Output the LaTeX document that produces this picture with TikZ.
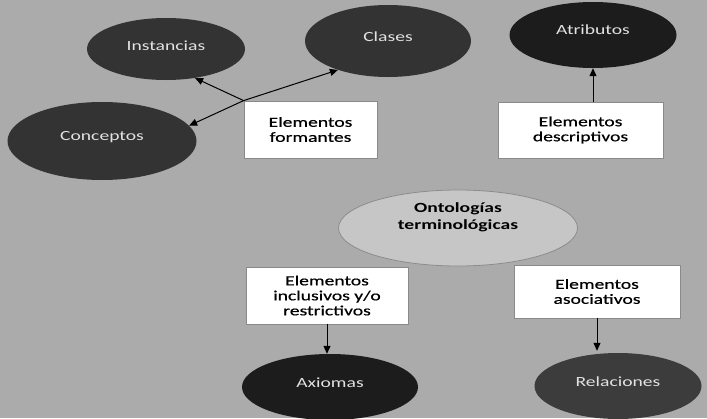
\documentclass[tikz,border=0pt]{standalone}
\usepackage{fontspec}
\setmainfont[FakeStretch=1.4]{Carlito}
\newfontfamily\medfont[FakeStretch=1.4,FakeBold=0.6]{Carlito}
\usetikzlibrary{shapes.geometric,arrows.meta}
\definecolor{bg}{HTML}{ABABAB}
\definecolor{ontofill}{HTML}{C6C6C6}
\definecolor{ontoline}{HTML}{8C8C8C}
\definecolor{boxline}{HTML}{8A8A8A}
\definecolor{ell1}{HTML}{333333}
\definecolor{ell2}{HTML}{1C1C1C}
\definecolor{ell3}{HTML}{3C3C3C}
\definecolor{elltext}{HTML}{E2E2E2}
\tikzset{
  darkell/.style={ellipse, draw=none, fill=ell1, inner sep=0pt},
  elltxt/.style={text=elltext, inner sep=0pt, font=\fontsize{14}{15}\selectfont},
  boxnode/.style={rectangle, draw=boxline, line width=0.8pt, fill=white, align=center, inner sep=0pt, font=\fontsize{14}{15}\medfont},
  arr/.style={draw=black, line width=1pt, -{Triangle[length=8pt,width=7pt]}},
}
\begin{document}
\begin{tikzpicture}[x=1pt,y=-1pt]
\fill[bg] (0,0) rectangle (707,418);
\useasboundingbox (0,0) rectangle (707,418);
% ellipses
\node[darkell, minimum width=158pt, minimum height=62pt] (inst) at (166,49) {};
\node[darkell, minimum width=166pt, minimum height=72pt, fill=ell1] (cls) at (388,41) {};
\node[darkell, minimum width=167pt, minimum height=66pt, fill=ell2] (attr) at (593,35) {};
\node[darkell, minimum width=189pt, minimum height=78pt] (conc) at (102,141) {};
\node[ellipse, draw=ontoline, line width=0.8pt, fill=ontofill, minimum width=239pt, minimum height=76pt, inner sep=0pt] (onto) at (458,228) {};
\node[darkell, minimum width=176pt, minimum height=66pt, fill=ell2] (axi) at (330,387) {};
\node[darkell, minimum width=167pt, minimum height=66pt, fill=ell3] (rel) at (618,386) {};
% ellipse texts
\node[elltxt] (instT) at ([yshift=3pt]inst.center) {Instancias};
\node[elltxt] (clsT) at ([yshift=4pt]cls.center) {Clases};
\node[elltxt] (attrT) at ([yshift=5pt]attr.center) {Atributos};
\node[elltxt] (concT) at ([yshift=4pt]conc.center) {Conceptos};
\node[inner sep=0pt, align=center, font=\fontsize{14}{17}\selectfont\bfseries] (ontoT) at ([yshift=11pt]onto.center) {Ontologías\\terminológicas};
\node[elltxt] (axiT) at ([yshift=4pt]axi.center) {Axiomas};
\node[elltxt] (relT) at ([yshift=4pt]rel.center) {Relaciones};
% boxes
\node[boxnode, minimum width=133pt, minimum height=57pt] (form) at (310.5,129.5) {Elementos\\formantes};
\node[boxnode, minimum width=165pt, minimum height=56pt] (desc) at (580.5,130) {Elementos\\descriptivos};
\node[boxnode, minimum width=162pt, minimum height=57pt] (incl) at (327,295.5) {Elementos\\inclusivos y/o\\restrictivos};
\node[boxnode, minimum width=166pt, minimum height=53pt] (asoc) at (597,291.5) {Elementos\\asociativos};
% connectors
\draw[arr] (form.north west) -- (inst.-45);
\draw[arr] (form.north west) -- (cls.-150);
\draw[arr] (form.north west) -- (conc.10);
\draw[arr] (attr.south |- desc.north) -- (attr.south);
\draw[arr] (incl.south) -- (incl.south |- axi.north);
\draw[arr] (asoc.south) -- ([yshift=2pt]asoc.south |- rel.north);
\end{tikzpicture}
\end{document}
